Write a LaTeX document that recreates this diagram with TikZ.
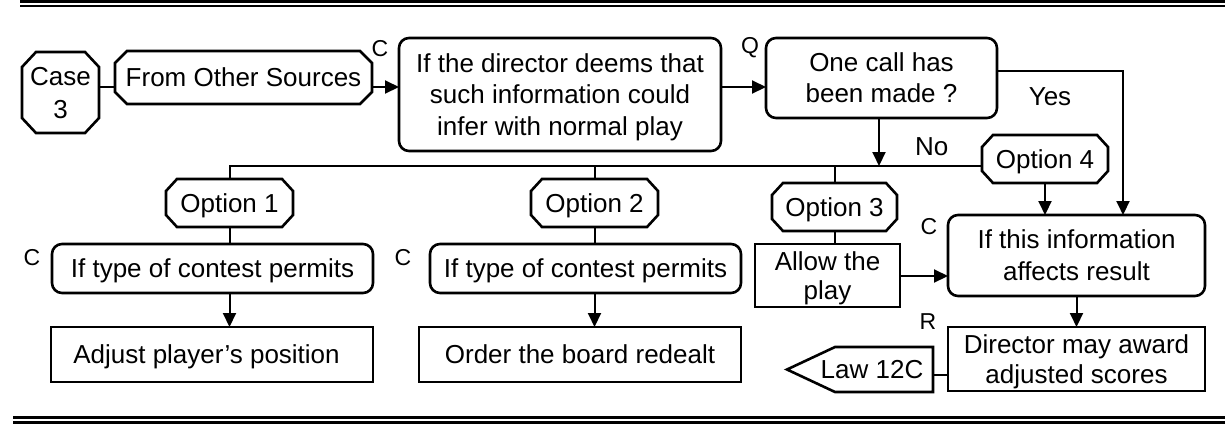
\documentclass[tikz,border=0pt]{standalone}
\usepackage{fontspec}
\setmainfont{Liberation Sans}
\usetikzlibrary{arrows.meta}
\newcommand\mlines[2][31]{\fontsize{26}{#1}\selectfont\begin{tabular}[t]{@{}c@{}}#2\end{tabular}}
\newcommand\octpath[3]{%
  \draw[shapeline] ([xshift=#2pt]#1.north west) -- ([xshift=-#2pt]#1.north east)
    -- ([yshift=-#3pt]#1.north east) -- ([yshift=#3pt]#1.south east)
    -- ([xshift=-#2pt]#1.south east) -- ([xshift=#2pt]#1.south west)
    -- ([yshift=#3pt]#1.south west) -- ([yshift=-#3pt]#1.north west) -- cycle;}
\begin{document}
\begin{tikzpicture}[x=1pt,y=-1pt,
  every node/.style={font=\fontsize{26}{31}\selectfont, inner sep=0pt, outer sep=0pt},
  shapeline/.style={line width=2.6pt, line join=miter},
  sqbox/.style={draw, line width=2.6pt, text height=18.6pt, text depth=0pt},
  rbox/.style={sqbox, rounded corners=10pt},
  octnode/.style={draw=none, text height=18.6pt, text depth=0pt},
  conn/.style={line width=2pt},
  arr/.style={conn, -{Triangle[length=14pt,width=13pt]}},
  lbl/.style={font=\fontsize{23}{27}\selectfont},
  lblb/.style={font=\fontsize{26}{31}\selectfont}]
\useasboundingbox (0,0) rectangle (1225,424);

% rules top and bottom
\draw[line width=3pt] (20,1.5) -- (1225,1.5);
\draw[line width=2pt] (20,6) -- (1225,6);
\draw[line width=2.5pt] (13,417.3) -- (1225,417.3);
\draw[line width=3.5pt] (13,422.5) -- (1225,422.5);

% nodes
\node[octnode, minimum width=77pt, minimum height=81pt, text depth=32.6pt] (case) at (60.5,92.5) {\mlines[32.6]{Case\\3}};
\octpath{case}{14}{15}
\node[octnode, minimum width=257pt, minimum height=53pt] (from) at (243.5,77.5) {From Other Sources};
\octpath{from}{12}{12}
\node[rbox, minimum width=322pt, minimum height=113pt, text depth=62.6pt] (dir) at (560,94.5) {\mlines[31.3]{If the director deems that\\such information could\\infer with normal play}};
\node[rbox, minimum width=231pt, minimum height=80pt, text depth=31pt] (one) at (881.5,78) {\mlines{One call has\\been made ?}};

\node[octnode, minimum width=126pt, minimum height=48pt] (opt4) at (1045,159) {Option 4};
\octpath{opt4}{11}{12}
\node[octnode, minimum width=127pt, minimum height=48pt] (opt1) at (229.5,203) {Option 1};
\octpath{opt1}{11}{12}
\node[octnode, minimum width=127pt, minimum height=48pt] (opt2) at (594.5,203) {Option 2};
\octpath{opt2}{11}{12}
\node[octnode, minimum width=125pt, minimum height=48pt] (opt3) at (834.5,207) {Option 3};
\octpath{opt3}{11}{12}

\node[rbox, minimum width=321pt, minimum height=49pt] (box1) at (212.5,268.5) {If type of contest permits};
\node[rbox, minimum width=311pt, minimum height=49pt] (box2) at (585.5,268.5) {If type of contest permits};
\node[sqbox, minimum width=145pt, minimum height=63pt, text depth=29pt] (allow) at (827.5,275.5) {\mlines[29]{Allow the\\play}};
\node[rbox, minimum width=257pt, minimum height=81pt, text depth=31.7pt] (ifthis) at (1076.5,255.5) {\mlines[31.7]{If this information\\affects result}};

\node[sqbox, minimum width=322pt, minimum height=55pt] (adjust) at (212,354.5) {\hspace*{-11pt}Adjust player’s position};
\node[sqbox, minimum width=322pt, minimum height=55pt] (order) at (580,354.5) {Order the board redealt};
\node[sqbox, minimum width=257pt, minimum height=64pt, text depth=30pt] (dmay) at (1076.5,359) {\mlines[30]{Director may award\\adjusted scores}};

\node[minimum width=146pt, minimum height=45pt] (law) at (860,369.5) {};
\draw[shapeline] (law.west) -- ([xshift=48pt]law.north west) -- (law.north east)
  -- (law.south east) -- ([xshift=48pt]law.south west) -- cycle;
\node[octnode] (lawtxt) at (872,369.5) {Law 12C};

% labels
\node[lbl] (lc1) at (380,49) {C};
\node[lbl] (lq) at (750,48) {Q};
\node[lblb] (lyes) at (1050,97) {Yes};
\node[lblb] (lno) at (931.7,146.7) {No};
\node[lbl] (lc2) at (32,258) {C};
\node[lbl] (lc3) at (403,258) {C};
\node[lbl] (lc4) at (929,227) {C};
\node[lbl] (lr) at (928,322) {R};

% connectors
\coordinate (ya) at (0,87);
\draw[conn] (case.east |- ya) -- (from.west |- ya);
\draw[arr] (from.east |- ya) -- (dir.west |- ya);
\draw[arr] (dir.east |- ya) -- (one.west |- ya);
\coordinate (yesy) at (1123,71);
\draw[arr] (one.east |- yesy) -| (ifthis.north -| yesy);
\coordinate (bus) at (879,166);
\draw[arr] (one.south -| bus) -- (bus);
\draw[conn] (opt4.west |- bus) -| (opt1.north);
\draw[conn] (opt2.north |- bus) -- (opt2.north);
\draw[conn] (opt3.north |- bus) -- (opt3.north);
\draw[arr] (opt4.south) -- (opt4.south |- ifthis.north);
\draw[conn] (opt1.south) -- (opt1.south |- box1.north);
\draw[conn] (opt2.south) -- (opt2.south |- box2.north);
\draw[conn] (opt3.south) -- (opt3.south |- allow.north);
\draw[arr] (box1.south -| opt1.south) -- (opt1.south |- adjust.north);
\draw[arr] (box2.south -| opt2.south) -- (opt2.south |- order.north);
\coordinate (yb) at (0,276);
\draw[arr] (allow.east |- yb) -- (ifthis.west |- yb);
\draw[arr] (ifthis.south) -- (dmay.north);
\coordinate (yl) at (0,375);
\draw[conn] (law.east |- yl) -- (dmay.west |- yl);
\end{tikzpicture}
\end{document}
